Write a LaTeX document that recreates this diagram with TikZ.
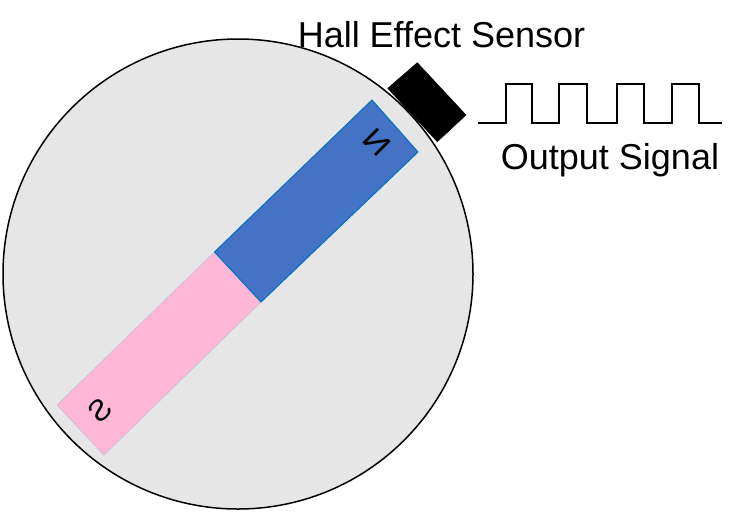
\documentclass[tikz,border=0pt]{standalone}
\usepackage{fontspec}
\setmainfont{Liberation Sans}
\definecolor{discgray}{RGB}{230,230,230}
\definecolor{magblue}{RGB}{68,114,196}
\definecolor{magblueedge}{RGB}{0,112,192}
\definecolor{magpink}{RGB}{255,183,214}
\definecolor{magpinkedge}{RGB}{200,185,225}
\tikzset{
  disc/.style={draw=black, line width=1.5pt, fill=discgray},
  northpole/.style={draw=magblueedge, line width=1pt, fill=magblue},
  southpole/.style={draw=magpinkedge, line width=0.6pt, fill=magpink},
  sensorbox/.style={fill=black, draw=black, line width=0.5pt},
  signalline/.style={draw=black, line width=1.2pt},
  bigtext/.style={font=\fontsize{36}{40}\selectfont, inner sep=0pt},
  poletext/.style={font=\fontsize{30}{33}\selectfont, inner sep=0pt}
}
\begin{document}
\begin{tikzpicture}[x=1pt,y=-1pt]
\useasboundingbox (0,0) rectangle (742,512);
% disc
\node[disc, circle, minimum size=470pt, inner sep=0pt] (disc) at (238,274) {};
% magnet
\coordinate (bt) at (372,100);
\coordinate (br) at (418,152);
\coordinate (mt) at (214.5,252);
\coordinate (mr) at (261,302);
\coordinate (pt) at (57,405);
\coordinate (pr) at (104,455);
\path[southpole] (mt) -- (mr) -- (pr) -- (pt) -- cycle;
\path[northpole] (bt) -- (br) -- (mr) -- (mt) -- cycle;
\node[poletext, rotate=-45] (N) at (377,142) {\scalebox{-1.15}[1]{N}};
\node[poletext, rotate=45] (S) at (100.5,410) {\scalebox{-1}[1]{S}};
% sensor
\coordinate (s1) at (417.3,62.7);
\coordinate (s2) at (466,115);
\coordinate (s3) at (437.3,141.7);
\coordinate (s4) at (387.7,88.3);
\path[sensorbox] (s1) -- (s2) -- (s3) -- (s4) -- cycle;
% signal
\coordinate (sigstart) at (478,123);
\coordinate (sigend) at (722,123);
\draw[signalline] (sigstart) -- (506,123) -- (506,84) -- (532,84) -- (532,123)
  -- (559,123) -- (559,84) -- (587,84) -- (587,123)
  -- (617,123) -- (617,84) -- (644,84) -- (644,123)
  -- (672,123) -- (672,84) -- (699,84) -- (699,123) -- (sigend);
% labels
\node[bigtext, anchor=base] (hall) at (441.5,47) {Hall Effect Sensor};
\node[bigtext, anchor=base] (out) at (610,169) {Output Signal};
\end{tikzpicture}
\end{document}
